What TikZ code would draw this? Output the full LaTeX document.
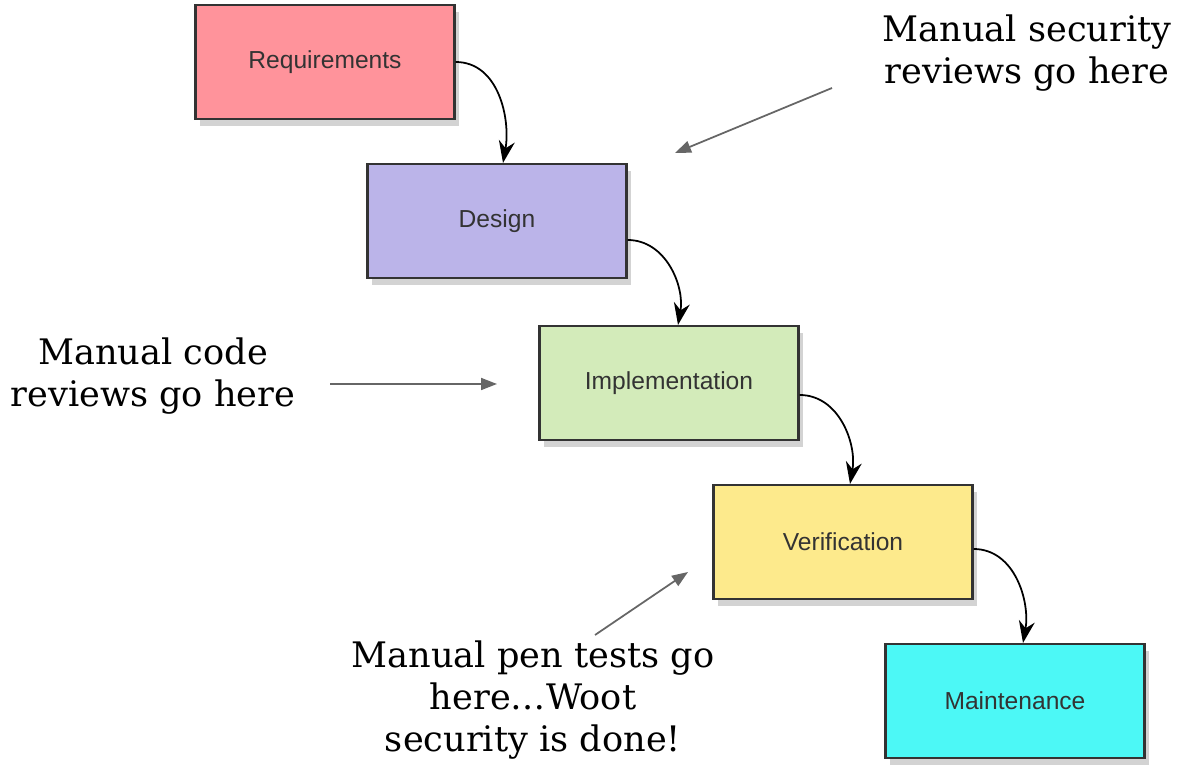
\documentclass[tikz,border=0pt]{standalone}
\usepackage{fontspec}
\setmainfont{DejaVu Serif}
\newfontfamily\boxfont{Liberation Sans}
\usetikzlibrary{arrows.meta,shadows}

\definecolor{reqpink}{HTML}{FF939B}
\definecolor{deslilac}{HTML}{BBB4E9}
\definecolor{implgreen}{HTML}{D3EBBA}
\definecolor{veryellow}{HTML}{FDEA8C}
\definecolor{maintcyan}{HTML}{4CF8F6}

\tikzset{
  phase/.style={draw=black!80, line width=0.6pt, minimum width=2.59cm, minimum height=1.14cm,
    font=\boxfont\fontsize{7}{8}\selectfont, text=black!80,
    drop shadow={shadow xshift=0.4mm, shadow yshift=-0.7mm, opacity=0.35}},
  flow/.style={-{Stealth[length=2.2mm,width=1.6mm]}, black, line width=0.5pt},
  note/.style={align=center, font=\fontsize{10}{12}\selectfont},
  pointer/.style={-{Triangle[length=1.6mm,width=1.2mm]}, black!60, line width=0.5pt}
}

\begin{document}
\begin{tikzpicture}

	\useasboundingbox (0,0) rectangle (11.78,-7.66);

	% waterfall phases
	\node[phase, fill=reqpink]   (req)   at (3.25,-0.62) {Requirements};
	\node[phase, fill=deslilac]  (des)   at (4.97,-2.21) {Design};
	\node[phase, fill=implgreen] (impl)  at (6.69,-3.83) {Implementation};
	\node[phase, fill=veryellow] (ver)   at (8.43,-5.42) {Verification};
	\node[phase, fill=maintcyan] (maint) at (10.15,-7.01) {Maintenance};

	\draw[flow] (req.east)  to[out=0,in=80] ([xshift=0.6mm]des.north);
	\draw[flow] ([yshift=-1.9mm]des.east) to[out=0,in=80] ([xshift=0.9mm]impl.north);
	\draw[flow] ([yshift=-1.2mm]impl.east) to[out=0,in=80] ([xshift=0.7mm]ver.north);
	\draw[flow] ([yshift=-0.7mm]ver.east) to[out=0,in=80] ([xshift=0.8mm]maint.north);

	% notes
	\node[note] (secnote)  at (10.27,-0.53) {Manual security\\reviews go here};
	\node[note] (codenote) at (1.53,-3.76)  {Manual code\\reviews go here};
	\node[note] (pennote)  at (5.33,-7.0)   {Manual pen tests go\\here…Woot\\security is done!};

	\coordinate (secfrom)  at (8.32,-0.88);
	\coordinate (secto)    at (6.75,-1.53);
	\coordinate (codefrom) at (3.30,-3.84);
	\coordinate (codeto)   at (4.97,-3.84);
	\coordinate (penfrom)  at (5.95,-6.35);
	\coordinate (pento)    at (6.88,-5.72);

	\draw[pointer] (secfrom)  -- (secto);
	\draw[pointer] (codefrom) -- (codeto);
	\draw[pointer] (penfrom)  -- (pento);

\end{tikzpicture}
\end{document}
